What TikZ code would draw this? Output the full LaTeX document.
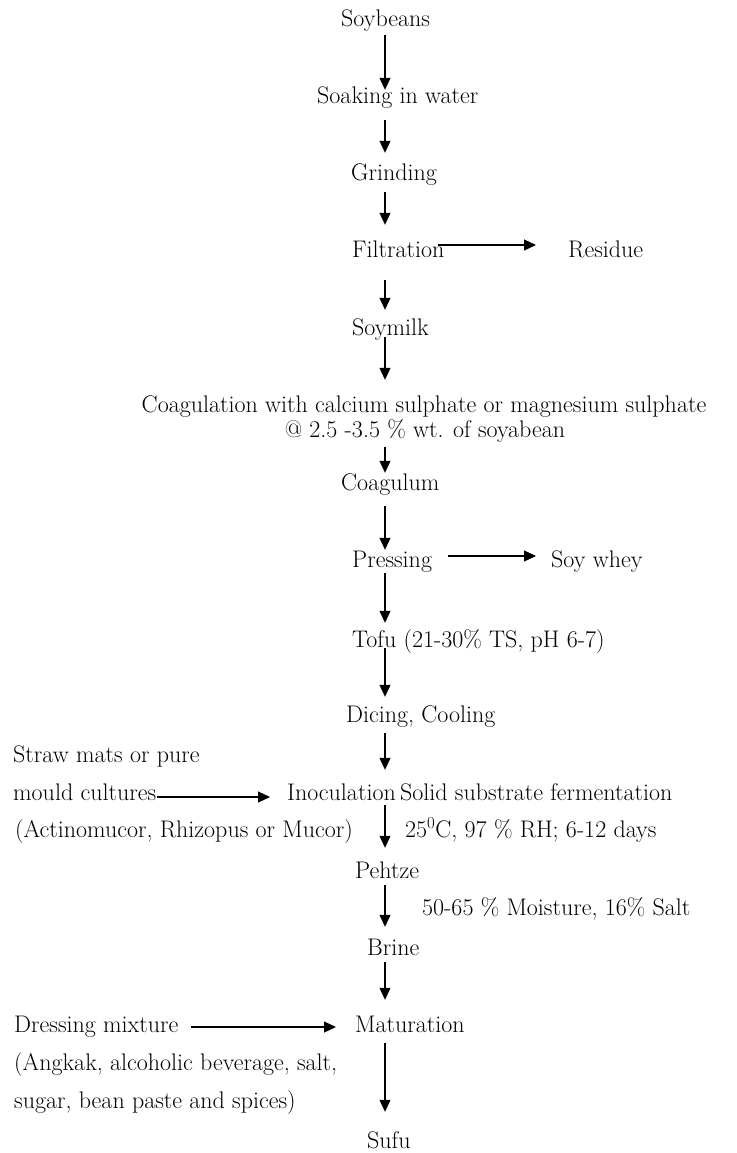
\documentclass[tikz,border=0pt]{standalone}
\usepackage{fontspec}
\usetikzlibrary{arrows.meta}
\begin{document}
\begin{tikzpicture}[x=1pt,y=-1pt,
  every node/.style={inner sep=0pt,text height=17pt,text depth=6pt,
    font=\fontsize{24}{28}\selectfont},
  flow/.style={line width=1.1pt,-{Triangle[length=12pt,width=11pt]}}]
\useasboundingbox (0,0) rectangle (736,1153);
\coordinate (col) at (385,0);
\node[anchor=west] (soybeans) at (341,21) {Soybeans};
\node[anchor=west] (soaking) at (317,98) {Soaking in water};
\node[anchor=west] (grinding) at (351,175) {Grinding};
\node[anchor=west] (filtration) at (352,252) {Filtration};
\node[anchor=west] (residue) at (568,252) {Residue};
\node[anchor=west] (soymilk) at (352,330) {Soymilk};
\node (coag) at (424,407) {Coagulation with calcium sulphate or magnesium sulphate};
\node (coagdose) at (425,432) {@ 2.5 -3.5 \% wt. of soyabean};
\node[anchor=west] (coagulum) at (341,485) {Coagulum};
\node[anchor=west] (pressing) at (352,562) {Pressing};
\node[anchor=west] (soywhey) at (551,562) {Soy whey};
\node[anchor=west] (tofu) at (352,642) {Tofu (21-30\% TS, pH 6-7)};
\node[anchor=west] (dicing) at (346,717) {Dicing, Cooling};
\node[anchor=west] (straw) at (13,757) {Straw mats or pure};
\node[anchor=west] (mould) at (13,795) {mould cultures};
\node[anchor=west] (moulds) at (15,832) {(Actinomucor, Rhizopus or Mucor)};
\node[anchor=west] (inoc) at (287,795) {Inoculation};
\node[anchor=west] (ssf) at (400,795) {Solid substrate fermentation};
\node[anchor=west] (ssfcond) at (405,832) {25\textsuperscript{0}C, 97 \% RH; 6-12 days};
\node[anchor=west] (pehtze) at (355,873) {Pehtze};
\node[anchor=west] (brinecond) at (422,910) {50-65 \% Moisture, 16\% Salt};
\node[anchor=west] (brine) at (367,950) {Brine};
\node[anchor=west] (dressing) at (14,1027) {Dressing mixture};
\node[anchor=west] (dressinga) at (14,1065) {(Angkak, alcoholic beverage, salt,};
\node[anchor=west] (dressingb) at (14,1103) {sugar, bean paste and spices)};
\node[anchor=west] (maturation) at (355,1027) {Maturation};
\node[anchor=west] (sufu) at (367,1143) {Sufu};
\draw[flow,shorten <=2.5pt,shorten >=-3.5pt] (soybeans.south -| col) -- (soaking.north -| col);
\draw[flow,shorten <=10.5pt,shorten >=10.5pt] (soaking.south -| col) -- (grinding.north -| col);
\draw[flow,shorten <=5.5pt,shorten >=15.5pt] (grinding.south -| col) -- (filtration.north -| col);
\draw[flow,shorten <=16.5pt,shorten >=8.5pt] (filtration.south -| col) -- (soymilk.north -| col);
\draw[flow,shorten <=-4.5pt,shorten >=15.5pt] (soymilk.south -| col) -- (coag.north -| col);
\draw[flow,shorten <=3.5pt,shorten >=0.5pt] (coagdose.south -| col) -- (coagulum.north -| col);
\draw[flow,shorten <=9.5pt,shorten >=0.5pt] (coagulum.south -| col) -- (pressing.north -| col);
\draw[flow,shorten <=-0.5pt,shorten >=7.5pt] (pressing.south -| col) -- (tofu.north -| col);
\draw[flow,shorten <=-5.5pt,shorten >=8.5pt] (tofu.south -| col) -- (dicing.north -| col);
\draw[flow,shorten <=4.5pt,shorten >=13.5pt] (dicing.south -| col) -- (inoc.north -| col);
\draw[flow,shorten <=-1.5pt,shorten >=13.5pt] (inoc.south -| col) -- (pehtze.north -| col);
\draw[flow,shorten <=0.5pt,shorten >=11.5pt] (pehtze.south -| col) -- (brine.north -| col);
\draw[flow,shorten <=0.5pt,shorten >=15.5pt] (brine.south -| col) -- (maturation.north -| col);
\draw[flow,shorten <=4.5pt,shorten >=19.5pt] (maturation.south -| col) -- (sufu.north -| col);
\draw[flow,shorten <=-7pt,shorten >=32pt] ([yshift=7pt]filtration.east) -- ([yshift=7pt]residue.west);
\draw[flow,shorten <=16pt,shorten >=15pt] ([yshift=6pt]pressing.east) -- ([yshift=6pt]soywhey.west);
\draw[flow,shorten <=1pt,shorten >=17pt] ([yshift=-2pt]mould.east) -- ([yshift=-2pt]inoc.west);
\draw[flow,shorten <=12pt,shorten >=19pt] (dressing.east) -- (maturation.west);
\end{tikzpicture}
\end{document}
